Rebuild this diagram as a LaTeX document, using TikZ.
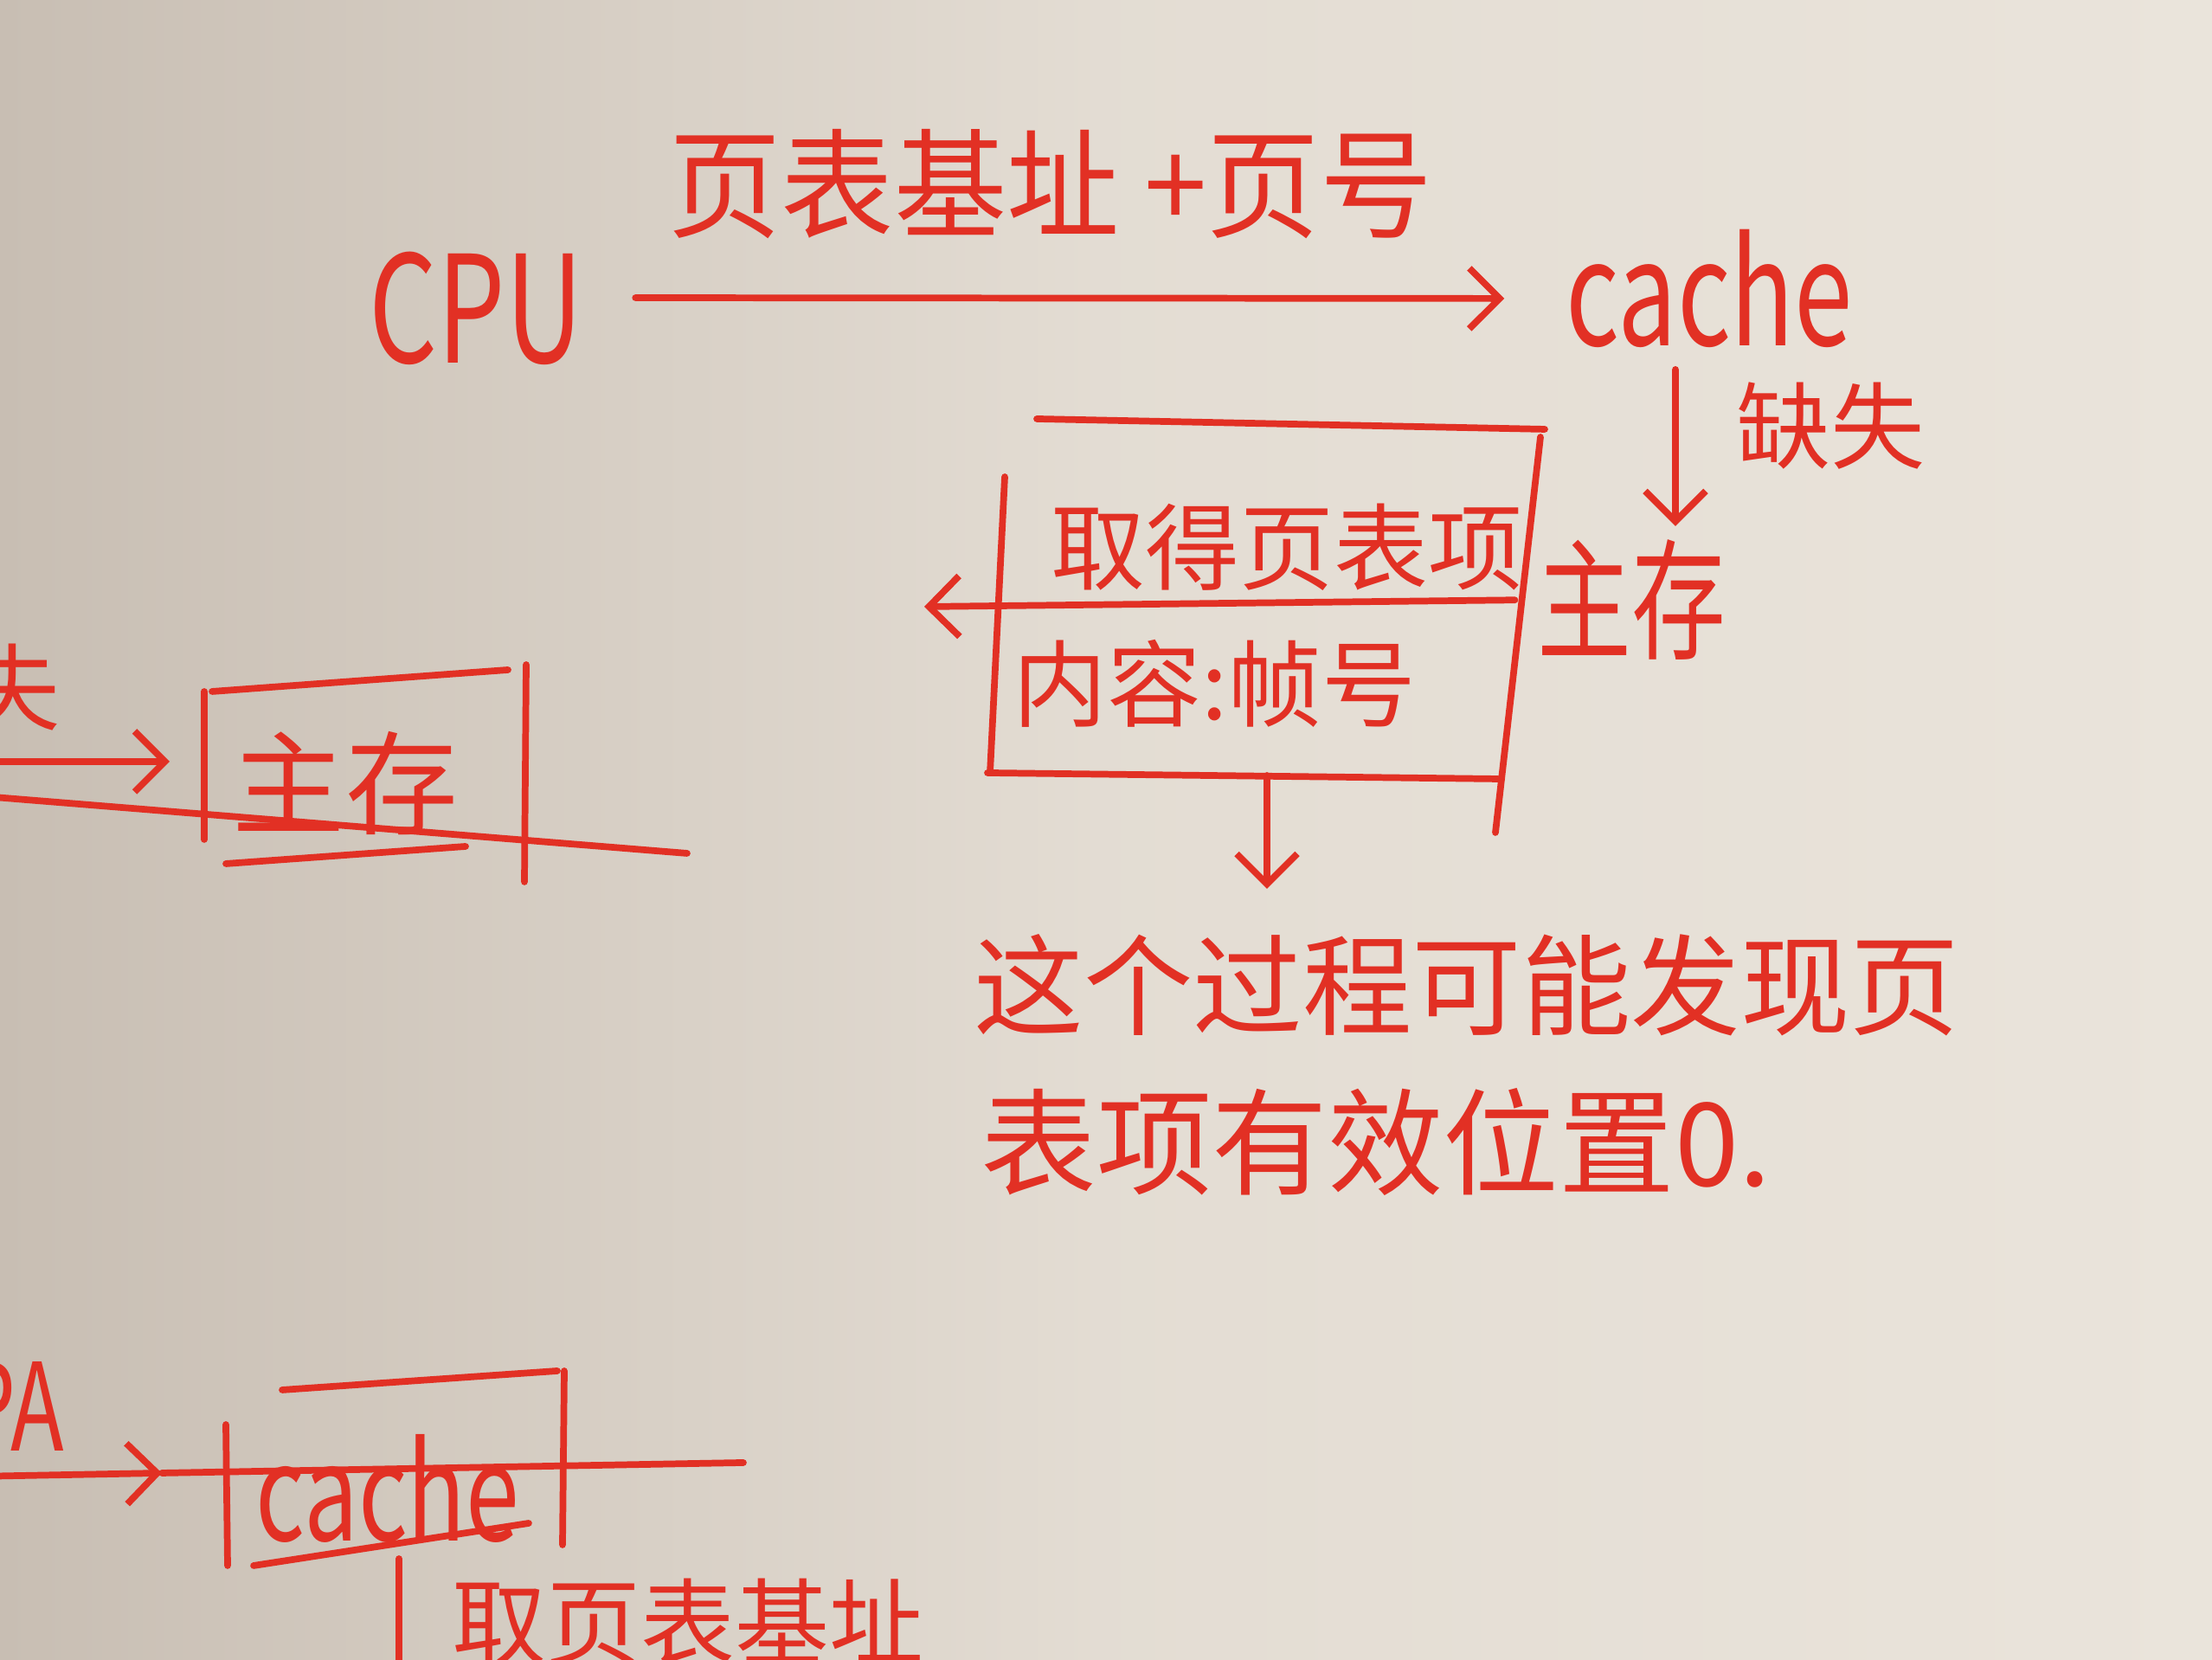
\documentclass[tikz,border=0pt]{standalone}
\usepackage{fontspec}
\setmainfont{Noto Sans CJK SC}
\newfontfamily\handnarrow[FakeStretch=0.72]{Noto Sans CJK SC}
\newfontfamily\handtall[FakeStretch=0.95]{Noto Sans CJK SC}
\usetikzlibrary{arrows.meta}

\definecolor{ink}{RGB}{226,48,36}
\definecolor{paper}{RGB}{234,228,219}
\definecolor{papershade}{RGB}{200,190,179}

\tikzset{
  pen/.style={draw=ink, line width=2.2pt, line cap=round, line join=round},
  arrow/.style={pen, -{Straight Barb[length=3.5mm, width=7mm]}},
  hand/.style={text=ink, inner sep=0pt},
}

\begin{document}
\begin{tikzpicture}
\useasboundingbox (0,0) rectangle (25.56,19.18);
\shade[left color=papershade, right color=paper, middle color=paper!80!papershade] (0,0) rectangle (25.56,19.18);
\clip (0,0) rectangle (25.56,19.18);

% top row
\node[hand, font=\handnarrow\fontsize{49}{55}\selectfont] (cpu) at (5.50,15.62) {CPU};
\node[hand, font=\handnarrow\fontsize{48}{55}\selectfont] (cache) at (19.75,15.85) {cache};
\draw[arrow, shorten <=6mm, shorten >=7mm] ([yshift=1.2mm]cpu.east) -- ([yshift=-1.2mm]cache.west);
\node[hand, font=\handtall\fontsize{39}{44}\selectfont] (pgsum) at (12.14,17.05) {页表基址 +页号};

\node[hand, font=\handnarrow\fontsize{43}{50}\selectfont] (mem) at (18.85,12.25) {主存};
\draw[arrow, shorten <=2.5mm] ([xshift=-3.9mm]cache.south) -- ([xshift=5.1mm, yshift=1.5mm]mem.north);
\node[hand, font=\fontsize{31}{36}\selectfont] (miss) at (21.15,14.26) {缺失};

% page table box
\draw[pen] (11.98,14.34) -- (17.85,14.22);
\draw[pen] (17.80,14.13) -- (17.28,9.56);
\draw[pen] (11.61,13.67) -- (11.44,10.25);
\draw[pen] (11.41,10.25) -- (17.31,10.18);
\coordinate (fetchtip) at (10.68,12.17);
\draw[arrow, shorten <=2.5mm] (mem.west) -- (fetchtip);
\node[hand, font=\fontsize{31}{36}\selectfont] (fetch) at (14.87,12.86) {取得页表项};
\node[hand, font=\fontsize{31}{36}\selectfont, anchor=west] (frameno) at (11.70,11.28) {内容:帧号};

% note
\coordinate (boxout) at (14.64,10.22);
\coordinate (notetop) at (14.64,8.91);
\draw[arrow] (boxout) -- (notetop);
\node[hand, font=\fontsize{36}{42}\selectfont, anchor=west] (note1) at (11.25,7.80) {这个过程可能发现页};
\node[hand, font=\fontsize{38}{44}\selectfont, anchor=west] (note2) at (11.33,5.98) {表项有效位置0.};

% left middle, cut by the page edge
\node[hand, font=\fontsize{31}{36}\selectfont, anchor=east] (missL) at (0.70,11.24) {缺失};
\coordinate (midin) at (-0.3,10.38);
\coordinate (midtip) at (1.96,10.38);
\draw[arrow] (midin) -- (midtip);
\draw[pen] (2.36,11.19) -- (2.36,9.48);
\draw[pen] (2.45,11.19) -- (5.87,11.44);
\draw[pen] (6.08,11.50) -- (6.06,8.99);
\draw[pen] (-0.2,9.98) -- (7.94,9.32);
\node[hand, font=\fontsize{37}{42}\selectfont] (memL) at (3.99,10.13) {主存};
\draw[pen] (2.61,9.20) -- (5.38,9.40);

% lower left, cut by the page edge
\node[hand, font=\handnarrow\fontsize{40}{46}\selectfont, anchor=east] (pa) at (0.75,2.93) {PA};
\coordinate (lowin) at (-0.3,2.12);
\coordinate (lowtip) at (1.87,2.16);
\draw[arrow] (lowin) -- (lowtip);
\draw[pen] (lowtip) -- (8.59,2.28);
\draw[pen] (2.61,2.72) -- (2.63,1.09);
\draw[pen] (3.26,3.12) -- (6.44,3.34);
\draw[pen] (6.52,3.34) -- (6.50,1.33);
\node[hand, font=\handnarrow\fontsize{44}{50}\selectfont] (cacheL) at (4.48,1.98) {cache};
\draw[pen] (2.93,1.09) -- (6.11,1.58);
\draw[pen] (4.61,1.17) -- (4.61,-0.2);
\node[hand, font=\fontsize{31}{36}\selectfont, anchor=north west] (baseL) at (5.22,0.95) {取页表基址};

\end{tikzpicture}
\end{document}
